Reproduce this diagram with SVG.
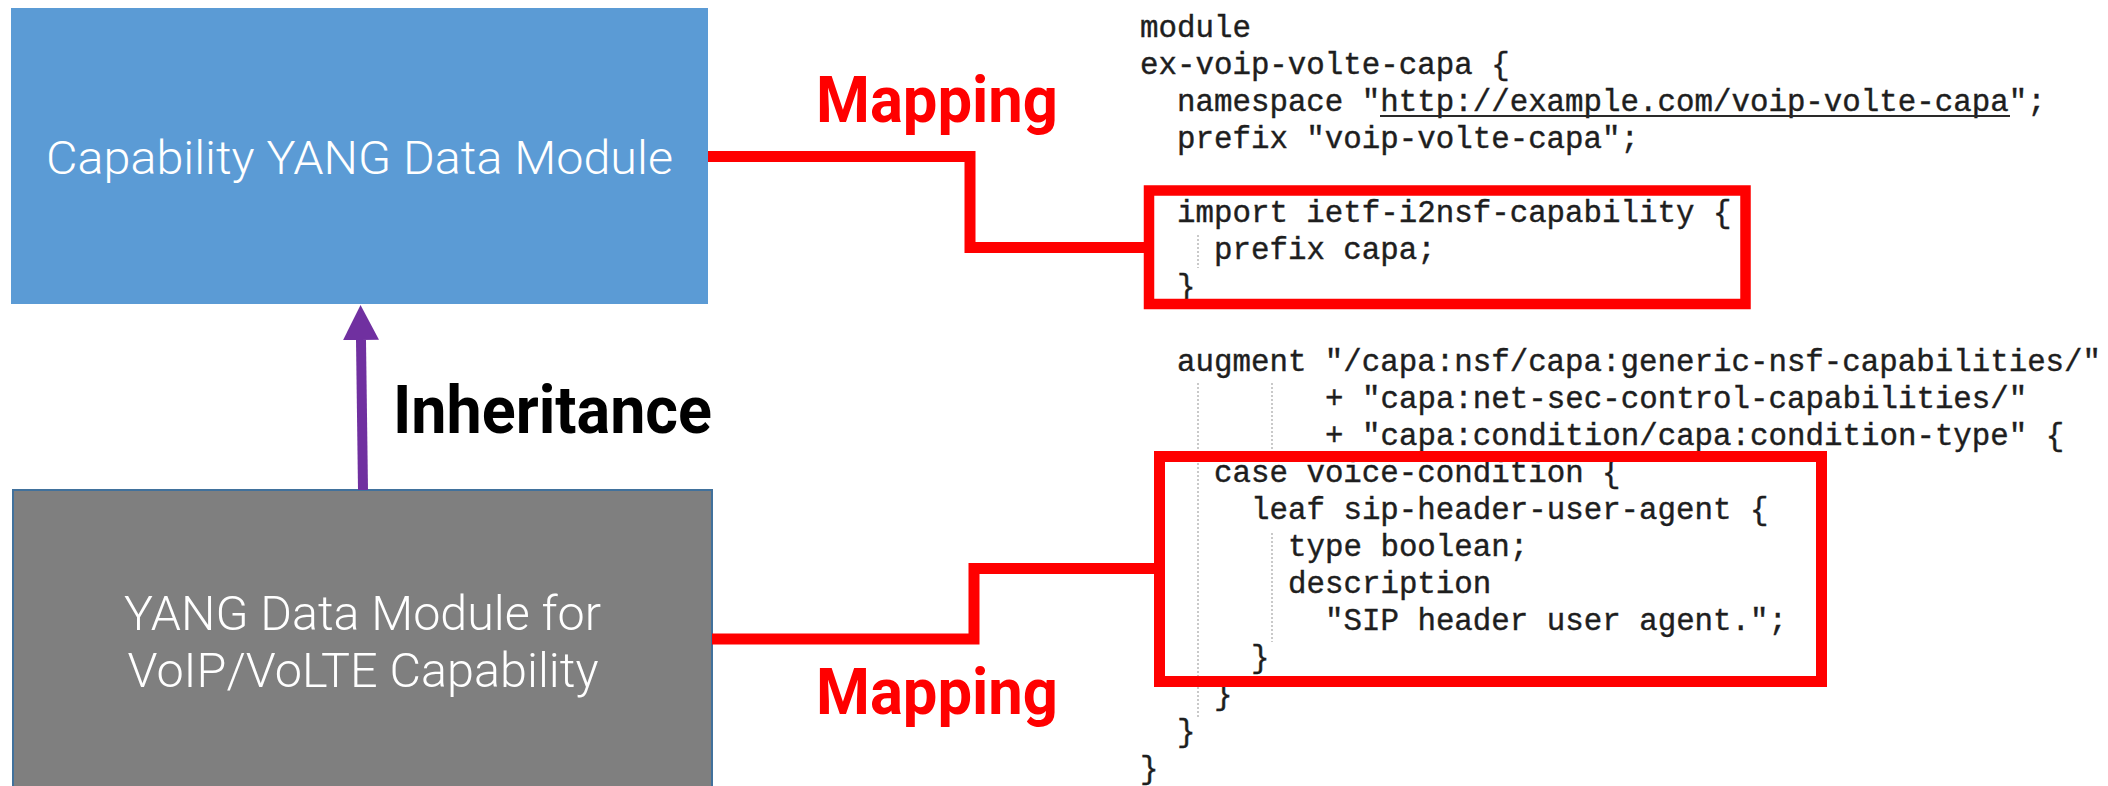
<svg xmlns="http://www.w3.org/2000/svg" width="2108" height="786" viewBox="0 0 2108 786">
  <style>
    .box-text { font-family: Roboto, "Liberation Sans", sans-serif; font-weight: 300; fill: #ffffff; text-anchor: middle; }
    .label-bold { font-family: Roboto, "Liberation Sans", sans-serif; font-weight: 700; }
    .mapping { fill: #ff0000; font-size: 65px; }
    .code { font-family: "Liberation Mono", "DejaVu Sans Mono", monospace; font-size: 30.8px; fill: #1e1e1e; stroke: #1e1e1e; stroke-width: 0.4; }
    .conn { fill: none; stroke: #ff0000; stroke-width: 11; stroke-linejoin: miter; }
    .hl { fill: none; stroke: #ff0000; }
    .guide { stroke: #b8b8b8; stroke-width: 1.5; stroke-dasharray: 2 2; fill: none; }
  </style>
  <defs>
    <marker id="arrowHead" markerUnits="userSpaceOnUse" markerWidth="35" markerHeight="36" refX="0" refY="18" orient="auto" viewBox="0 0 35 36">
      <polygon points="0,0 35,18 0,36" fill="#7030a0"/>
    </marker>
  </defs>
  <rect width="2108" height="786" fill="#ffffff"/>

  <g id="node-capability">
    <rect x="11" y="8" width="697" height="296" fill="#5b9bd5"/>
    <text class="box-text" x="359.5" y="174" font-size="46" textLength="627" lengthAdjust="spacingAndGlyphs">Capability YANG Data Module</text>
  </g>

  <g id="node-voip">
    <rect x="13" y="490" width="699" height="310" fill="#7f7f7f" stroke="#41719c" stroke-width="2"/>
    <text class="box-text" x="362.5" y="630" font-size="48" textLength="477" lengthAdjust="spacingAndGlyphs">YANG Data Module for</text>
    <text class="box-text" x="363" y="687" font-size="48" textLength="471" lengthAdjust="spacingAndGlyphs">VoIP/VoLTE Capability</text>
  </g>

  <g id="code">
    <text class="code" x="1140" y="37">module</text>
    <text class="code" x="1140" y="74">ex-voip-volte-capa {</text>
    <text class="code" x="1177" y="111">namespace "http://example.com/voip-volte-capa";</text>
    <line x1="1380" y1="116" x2="2010" y2="116" stroke="#2a2a2a" stroke-width="2"/>
    <text class="code" x="1177" y="148">prefix "voip-volte-capa";</text>
    <text class="code" x="1177" y="222">import ietf-i2nsf-capability {</text>
    <text class="code" x="1214" y="259">prefix capa;</text>
    <text class="code" x="1177" y="296">}</text>
    <text class="code" x="1177" y="371">augment "/capa:nsf/capa:generic-nsf-capabilities/"</text>
    <text class="code" x="1325" y="408">+ "capa:net-sec-control-capabilities/"</text>
    <text class="code" x="1325" y="445">+ "capa:condition/capa:condition-type" {</text>
    <text class="code" x="1214" y="482">case voice-condition {</text>
    <text class="code" x="1251" y="519">leaf sip-header-user-agent {</text>
    <text class="code" x="1288" y="556">type boolean;</text>
    <text class="code" x="1288" y="593">description</text>
    <text class="code" x="1325" y="630">"SIP header user agent.";</text>
    <text class="code" x="1251" y="667">}</text>
    <text class="code" x="1214" y="704">}</text>
    <text class="code" x="1177" y="741">}</text>
    <text class="code" x="1140" y="778">}</text>
    <line class="guide" x1="1198" y1="235" x2="1198" y2="268"/>
    <line class="guide" x1="1198" y1="383" x2="1198" y2="717"/>
    <line class="guide" x1="1272" y1="383" x2="1272" y2="452"/>
    <line class="guide" x1="1272" y1="533" x2="1272" y2="642"/>
  </g>

  <g id="highlight-import">
    <rect class="hl" x="1149" y="190.5" width="596.5" height="113.5" stroke-width="10.5"/>
  </g>
  <g id="highlight-case">
    <rect class="hl" x="1159.5" y="456.5" width="662" height="225" stroke-width="11"/>
  </g>

  <g id="connectors">
    <path class="conn" d="M708,156.5 H970 V247.5 H1144"/>
    <path class="conn" d="M712,639 H974 V568.5 H1154"/>
    <path d="M363,490 L361,340" stroke="#7030a0" stroke-width="10" fill="none" marker-end="url(#arrowHead)"/>
  </g>

  <g id="labels">
    <text class="label-bold mapping" x="816" y="122" textLength="242" lengthAdjust="spacingAndGlyphs">Mapping</text>
    <text class="label-bold mapping" x="816" y="714" textLength="242" lengthAdjust="spacingAndGlyphs">Mapping</text>
    <text class="label-bold" x="393" y="433" font-size="67" fill="#000000" textLength="319" lengthAdjust="spacingAndGlyphs">Inheritance</text>
  </g>
</svg>
